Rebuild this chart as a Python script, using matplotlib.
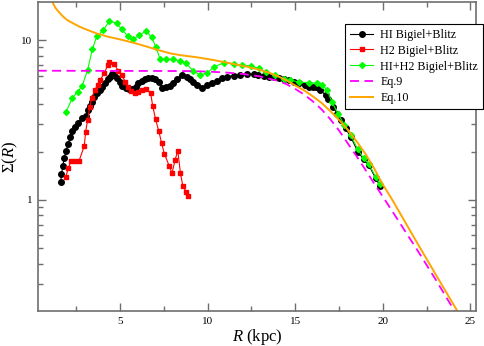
import numpy as np
import matplotlib
matplotlib.use("Agg")
import matplotlib.pyplot as plt

# HI Bigiel+Blitz
r_hi = [1.62, 1.66, 1.74, 1.81, 1.91, 2.04, 2.16, 2.27, 2.43, 2.61, 2.81, 3.04, 3.19, 3.30,
        3.42, 3.53, 3.68, 3.84, 3.99, 4.14, 4.30, 4.45, 4.56, 4.67, 4.83, 4.98, 5.13, 5.33,
        5.51, 5.70, 5.90, 6.05, 6.24, 6.43, 6.62, 6.81, 7.00, 7.23, 7.42, 7.65, 7.86, 8.05,
        8.24, 8.53, 8.81, 9.00, 9.19, 9.42, 9.67, 9.96, 10.25, 10.53, 10.82, 11.10, 11.48,
        11.86, 12.25, 12.63, 12.90, 13.20, 13.48, 13.77, 14.06, 14.34, 14.63, 14.92, 15.20,
        15.58, 15.80, 16.00, 16.20, 16.44, 16.73, 16.90, 17.17, 17.40, 17.59, 17.88, 18.16,
        18.58, 18.90, 19.20, 19.59, 19.85]
s_hi = [1.30, 1.45, 1.63, 1.82, 2.02, 2.24, 2.47, 2.71, 2.87, 3.02, 3.24, 3.35, 3.65, 3.87,
        4.11, 4.38, 4.65, 4.87, 5.11, 5.41, 5.68, 5.90, 6.11, 6.02, 5.76, 5.49, 5.16, 5.01,
        4.92, 4.96, 5.06, 5.37, 5.57, 5.70, 5.81, 5.81, 5.68, 5.49, 5.00, 5.05, 5.16, 5.40,
        5.68, 6.04, 5.90, 5.70, 5.49, 5.20, 5.00, 5.24, 5.41, 5.57, 5.76, 5.90, 6.00,
        6.04, 6.10, 6.10, 6.04, 5.98, 5.90, 5.85, 5.76, 5.68, 5.62, 5.49, 5.41,
        5.25, 5.12, 5.10, 5.05, 4.87, 4.53, 4.25, 3.83, 3.45, 3.16, 2.80, 2.49,
        2.00, 1.80, 1.65, 1.37, 1.22]

# H2 Bigiel+Blitz
r_h2 = [1.91, 2.04, 2.20, 2.43, 2.65, 2.96, 3.04, 3.15, 3.28, 3.38, 3.57, 3.72, 3.86, 4.10,
        4.30, 4.39, 4.67, 4.90, 5.10, 5.30, 5.44, 5.63, 5.86, 6.05, 6.28, 6.51, 6.75, 6.87,
        7.03, 7.22, 7.37, 7.53, 7.82, 7.97, 8.15, 8.30, 8.45, 8.59, 8.78, 8.91]
s_h2 = [1.39, 1.58, 1.74, 1.76, 1.74, 2.17, 2.67, 3.16, 3.83, 4.31, 4.87, 5.24, 5.62, 6.19,
        6.98, 7.32, 7.08, 6.43, 6.04, 5.49, 5.11, 4.80, 4.68, 4.75, 4.87, 4.95, 4.65, 3.85,
        3.20, 2.68, 2.28, 1.95, 1.62, 1.47, 1.79, 2.03, 1.47, 1.22, 1.12, 1.06]

# HI+H2 Bigiel+Blitz
r_tot = [1.91, 2.27, 2.58, 2.84, 3.15, 3.42, 3.68, 4.05, 4.39, 4.81, 5.10, 5.44, 5.73, 6.09,
         6.49, 6.81, 7.06, 7.29, 7.63, 8.05, 8.43, 8.78, 9.16, 9.58, 9.99, 10.36, 10.91,
         11.48, 11.96, 12.48, 12.91, 13.35, 13.83, 14.34, 14.73, 15.20, 15.77, 16.25, 16.54,
         16.82, 17.10, 17.45, 17.80, 18.16, 18.58, 18.90, 19.20, 19.59, 19.85]
s_tot = [3.53, 4.32, 4.75, 5.16, 6.49, 8.75, 10.6, 11.5, 13.2, 12.7, 11.7, 10.6, 10.1, 10.7,
         11.4, 10.4, 9.0, 7.57, 7.57, 7.57, 7.40, 7.15, 6.43, 6.04, 6.25, 6.78, 7.20,
         7.08, 6.98, 6.88, 6.65, 6.34, 6.04, 5.70, 5.62, 5.46, 5.41, 5.37, 5.24,
         4.87, 4.10, 3.45, 2.95, 2.55, 2.07, 1.82, 1.68, 1.40, 1.25]

# Eq.9
r_eq9 = [0.3, 9, 10, 11, 12, 13, 14, 14.5, 15, 15.5, 16, 16.5, 17, 17.5, 18, 18.5, 19, 19.5,
         20, 21, 22, 23, 24, 24.3]
s_eq9 = [6.43, 6.40, 6.35, 6.27, 6.14, 5.92, 5.56, 5.30, 4.95, 4.57, 4.14, 3.69, 3.20, 2.72,
         2.26, 1.88, 1.55, 1.27, 1.05, 0.71, 0.48, 0.32, 0.21, 0.18]

# Eq.10
r_eq10 = [1.0, 1.3, 1.5, 1.76, 2.0, 2.4, 2.71, 3.2, 3.67, 4.3, 5.0, 5.8, 6.53, 7.2, 7.86, 8.43,
          9.4, 10.34, 11.3, 12.25, 13.0, 13.5, 14.0, 14.5, 15.0, 15.5, 16.0, 16.5, 17.0, 17.5,
          18.0, 18.5, 19.0, 19.5, 20.0, 20.5, 21.0, 22.0, 23.0, 24.0, 24.5]
s_eq10 = [18.5, 16.0, 15.0, 14.0, 13.3, 12.6, 12.1, 11.5, 11.0, 10.5, 10.1, 9.6, 9.1, 8.65,
          8.26, 8.05, 7.8, 7.5, 7.15, 6.81, 6.5, 6.25, 5.95, 5.6, 5.2, 4.85, 4.45, 4.05, 3.6,
          3.17, 2.75, 2.33, 1.95, 1.58, 1.25, 1.02, 0.82, 0.53, 0.345, 0.225, 0.183]

plt.rcParams['font.family'] = 'Liberation Serif'
plt.rcParams['mathtext.fontset'] = 'custom'
plt.rcParams['mathtext.rm'] = 'Liberation Serif'
plt.rcParams['mathtext.it'] = 'Liberation Serif:italic'

fig = plt.figure(figsize=(4.85, 3.46), dpi=100)
ax = fig.add_axes([38 / 485, 1 - 311 / 346, 438 / 485, 309 / 346])

ax.plot(r_hi, s_hi, color='black', marker='o', ms=4.0, lw=0.8, label='HI Bigiel+Blitz')
ax.plot(r_h2, s_h2, color='#ff0000', marker='s', ms=3.3, lw=0.8, label='H2 Bigiel+Blitz')
ax.plot(r_tot, s_tot, color='#00ff00', marker='D', ms=3.0, lw=0.8, label='HI+H2 Bigiel+Blitz')
ax.plot(r_eq9, s_eq9, color='#ff00ff', lw=1.3, dashes=(5, 3), label='Eq.9')
ax.plot(r_eq10, s_eq10, color='#ffa500', lw=1.4, label='Eq.10')

ax.set_yscale('log')
ax.set_xlim(0.32, 25.32)
ax.set_ylim(0.202, 17.3)
ax.set_xticks([5, 10, 15, 20, 25])
ax.set_xticks(np.arange(2.5, 25.1, 2.5), minor=True)
ax.set_yticks([1, 10])
ax.set_yticklabels(['1', '10'])
ax.yaxis.set_minor_formatter(matplotlib.ticker.NullFormatter())

for sp in ax.spines.values():
    sp.set_color('#6e6e6e')
    sp.set_linewidth(1.2)
ax.tick_params(which='both', direction='in', top=True, right=True, color='#6e6e6e',
               labelsize=8, width=1.0, pad=4)
ax.tick_params(which='major', length=6)
ax.tick_params(which='minor', length=3.5)

ax.set_xlabel(r'$R$ (kpc)', fontsize=12, labelpad=1)
ax.set_ylabel(r'$\mathit{\Sigma(R)}$', fontsize=12, labelpad=1)

leg = ax.legend(loc='upper right', bbox_to_anchor=(483 / 485, 1 - 24 / 346),
                bbox_transform=fig.transFigure, fontsize=8.7, fancybox=False,
                framealpha=1, edgecolor='black', handlelength=1.9, borderpad=0.4,
                labelspacing=0.32, borderaxespad=0, handletextpad=0.6)
leg.get_frame().set_linewidth(0.8)

fig.savefig('out.png', dpi=100)
